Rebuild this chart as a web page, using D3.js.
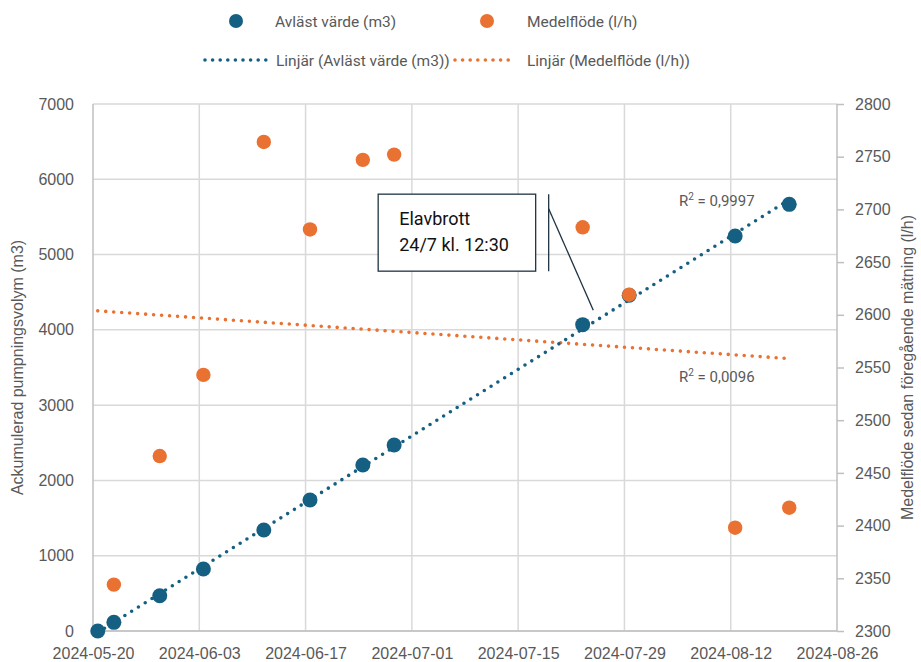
<!DOCTYPE html>
<html><head><meta charset="utf-8">
<script src="https://cdn.jsdelivr.net/npm/d3@7"></script>
<style>
html,body{margin:0;padding:0;background:#fff;}
svg{display:block;}
</style></head>
<body>
<svg id="chart" width="921" height="662"></svg>
<script>
// ---- data ----
const dates = ["2024-05-20T15:00","2024-05-22T18:00","2024-05-28T19:00","2024-06-03T13:00","2024-06-11T12:00","2024-06-17T14:00","2024-06-24T13:00","2024-06-28T16:00","2024-07-23T12:00","2024-07-29T15:00","2024-08-12T14:00","2024-08-19T17:00"];
const volume = [0, 115, 469, 823, 1341, 1740, 2205, 2470, 4069, 4460, 5246, 5667];
const flow = [null, 2344, 2466, 2543, 2764, 2681, 2747, 2752, 2683, 2619, 2398, 2417];
const xTickDates = ["2024-05-20","2024-06-03","2024-06-17","2024-07-01","2024-07-15","2024-07-29","2024-08-12","2024-08-26"];
const yLeftTicks = [0,1000,2000,3000,4000,5000,6000,7000];
const yRightTicks = [2300,2350,2400,2450,2500,2550,2600,2650,2700,2750,2800];
const seriesNames = ["Avläst värde (m3)","Medelflöde (l/h)"];
const trendNames = ["Linjär (Avläst värde (m3))","Linjär (Medelflöde (l/h))"];
const r2Labels = ["0,9997","0,0096"];
const annotationLines = ["Elavbrott","24/7 kl. 12:30"];
const leftTitle = "Ackumulerad pumpningsvolym (m3)";
const rightTitle = "Medelflöde sedan föregående mätning (l/h)";

// ---- setup ----
const BLUE = "#156082", ORANGE = "#E97132", GRID = "#d9d9d9", AXIS = "#bfbfbf", TXT = "#595959";
const FONT = "'Liberation Sans', Arial, sans-serif";
const LFONT = "Roboto, 'Liberation Sans', sans-serif";
const svg = d3.select("#chart");
const L = 93, R = 837, T = 104, B = 631;
const parse = d3.utcParse("%Y-%m-%dT%H:%M");
const parseD = d3.utcParse("%Y-%m-%d");
const tDates = dates.map(parse);
const x = d3.scaleUtc().domain([parseD(xTickDates[0]), parseD(xTickDates[xTickDates.length-1])]).range([L, R]);
const yL = d3.scaleLinear().domain([0, 7000]).range([B, T]);
const yR = d3.scaleLinear().domain([2300, 2800]).range([B, T]);

// gridlines
svg.append("g").selectAll("line").data(yLeftTicks).join("line")
  .attr("x1", L).attr("x2", R).attr("y1", d => yL(d)).attr("y2", d => yL(d))
  .attr("stroke", GRID).attr("stroke-width", 1.5);
svg.append("g").selectAll("line").data(xTickDates.slice(1, -1)).join("line")
  .attr("x1", d => x(parseD(d))).attr("x2", d => x(parseD(d))).attr("y1", T).attr("y2", B)
  .attr("stroke", GRID).attr("stroke-width", 1.5);

// axes lines
svg.append("line").attr("x1", L).attr("x2", L).attr("y1", T).attr("y2", B).attr("stroke", AXIS).attr("stroke-width", 1.5);
svg.append("line").attr("x1", R).attr("x2", R).attr("y1", T).attr("y2", B).attr("stroke", AXIS).attr("stroke-width", 1.5);
svg.append("line").attr("x1", L).attr("x2", R).attr("y1", B).attr("y2", B).attr("stroke", AXIS).attr("stroke-width", 1.5);

// left ticks
const gL = svg.append("g").attr("transform", `translate(${L},0)`)
  .call(d3.axisLeft(yL).tickValues(yLeftTicks).tickSize(0).tickPadding(19).tickFormat(d3.format("d")));
gL.select(".domain").remove();
gL.selectAll("text").attr("font-family", FONT).attr("font-size", 16).attr("fill", TXT);

// right ticks
const gR = svg.append("g").attr("transform", `translate(${R},0)`)
  .call(d3.axisRight(yR).tickValues(yRightTicks).tickSize(7).tickPadding(11).tickFormat(d3.format("d")));
gR.select(".domain").remove();
gR.selectAll("line").attr("stroke", AXIS).attr("stroke-width", 1.5);
gR.selectAll("text").attr("font-family", FONT).attr("font-size", 16).attr("fill", TXT);

// bottom ticks
const gB = svg.append("g").attr("transform", `translate(0,${B})`)
  .call(d3.axisBottom(x).tickValues(xTickDates.map(parseD)).tickSize(0).tickPadding(17).tickFormat(d3.utcFormat("%Y-%m-%d")));
gB.select(".domain").remove();
gB.selectAll("text").attr("font-family", FONT).attr("font-size", 16).attr("fill", TXT);

// axis titles
svg.append("text").attr("transform", `translate(23,${(T+B)/2}) rotate(-90)`).attr("text-anchor", "middle")
  .attr("font-family", FONT).attr("font-size", 16).attr("fill", TXT).text(leftTitle);
svg.append("text").attr("transform", `translate(913,${(T+B)/2}) rotate(-90)`).attr("text-anchor", "middle")
  .attr("font-family", FONT).attr("font-size", 16).attr("fill", TXT).text(rightTitle);

// regression helper
function linreg(xs, ys) {
  const pts = xs.map((v, i) => [v, ys[i]]).filter(p => p[1] != null);
  const mx = d3.mean(pts, p => p[0]), my = d3.mean(pts, p => p[1]);
  let sxy = 0, sxx = 0;
  pts.forEach(p => { sxy += (p[0]-mx)*(p[1]-my); sxx += (p[0]-mx)**2; });
  const m = sxy / sxx;
  return v => my + m * (v - mx);
}
const tNum = tDates.map(d => +d);
const t0 = tNum[0], t1 = tNum[tNum.length-1];
const fitV = linreg(tNum, volume);
const fitF = linreg(tNum, flow);
const trendAttrs = sel => sel.attr("fill", "none").attr("stroke-width", 3.6).attr("stroke-linecap", "round").attr("stroke-dasharray", "0 8");
svg.append("line").attr("x1", x(t0)).attr("y1", yR(fitF(t0))).attr("x2", x(t1)).attr("y2", yR(fitF(t1)))
  .attr("stroke", ORANGE).call(trendAttrs);
svg.append("line").attr("x1", x(t0)).attr("y1", yL(fitV(t0))).attr("x2", x(t1)).attr("y2", yL(fitV(t1)))
  .attr("stroke", BLUE).call(trendAttrs);

// points
svg.append("g").selectAll("circle").data(tDates.map((d, i) => ({d, v: volume[i]}))).join("circle")
  .attr("cx", p => x(p.d)).attr("cy", p => yL(p.v)).attr("r", 7.5).attr("fill", BLUE);
svg.append("g").selectAll("circle").data(tDates.map((d, i) => ({d, v: flow[i]})).filter(p => p.v != null)).join("circle")
  .attr("cx", p => x(p.d)).attr("cy", p => yR(p.v)).attr("r", 7.2).attr("fill", ORANGE);

// R² labels
function r2(xPos, yPos, val) {
  const t = svg.append("text").attr("x", xPos).attr("y", yPos).attr("font-family", LFONT).attr("font-size", 15).attr("fill", TXT);
  t.append("tspan").text("R");
  t.append("tspan").attr("dy", -6).attr("font-size", 10).text("2");
  t.append("tspan").attr("dy", 6).text(" = " + val);
}
r2(679, 206, r2Labels[0]);
r2(679, 382, r2Labels[1]);

// annotation (callout pointing at the 2024-07-23 reading)
const ai = 8;
const ax = x(tDates[ai]), ay = yL(volume[ai]);
const CO = "#1f3343";
svg.append("rect").attr("x", ax - 204.5).attr("y", ay - 130.5).attr("width", 157.5).attr("height", 77)
  .attr("fill", "#fff").attr("stroke", CO).attr("stroke-width", 1.3);
svg.append("line").attr("x1", ax - 34).attr("x2", ax - 34).attr("y1", ay - 130.5).attr("y2", ay - 53.5)
  .attr("stroke", CO).attr("stroke-width", 1.3);
svg.append("line").attr("x1", ax - 34).attr("y1", ay - 116).attr("x2", ax + 10.6).attr("y2", ay - 14.5)
  .attr("stroke", CO).attr("stroke-width", 1.3);
annotationLines.forEach((s, i) => {
  svg.append("text").attr("x", ax - 183.5).attr("y", ay - 100 + i * 26).attr("font-family", LFONT)
    .attr("font-size", 18).attr("fill", "#111").text(s);
});

// legend
const lg = svg.append("g");
lg.append("circle").attr("cx", 236).attr("cy", 21).attr("r", 7).attr("fill", BLUE);
lg.append("text").attr("x", 275).attr("y", 27).text(seriesNames[0]);
lg.append("circle").attr("cx", 487).attr("cy", 21).attr("r", 7).attr("fill", ORANGE);
lg.append("text").attr("x", 527).attr("y", 27).text(seriesNames[1]);
lg.append("line").attr("x1", 205).attr("x2", 266).attr("y1", 60).attr("y2", 60).attr("stroke", BLUE)
  .attr("stroke-width", 3.6).attr("stroke-linecap", "round").attr("stroke-dasharray", "0 7.6");
lg.append("text").attr("x", 276).attr("y", 66).text(trendNames[0]);
lg.append("line").attr("x1", 455).attr("x2", 510).attr("y1", 60).attr("y2", 60).attr("stroke", ORANGE)
  .attr("stroke-width", 3.6).attr("stroke-linecap", "round").attr("stroke-dasharray", "0 7.6");
lg.append("text").attr("x", 527).attr("y", 66).text(trendNames[1]);
lg.selectAll("text").attr("font-family", LFONT).attr("font-size", 15.5).attr("fill", TXT);
</script>
</body></html>
